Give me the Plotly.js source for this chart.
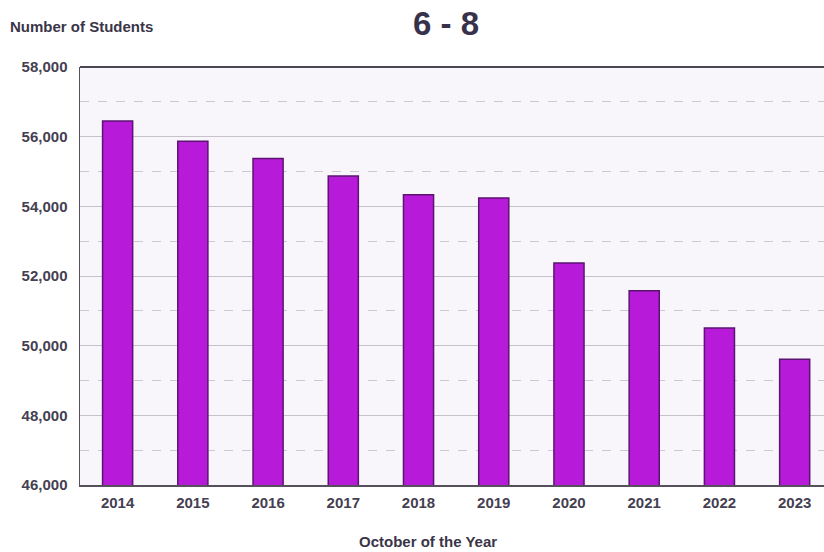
<!DOCTYPE html>
<html>
<head>
<meta charset="utf-8">
<script src="https://cdn.plot.ly/plotly-3.0.1.min.js"></script>
<style>html,body{margin:0;padding:0;background:#fff;}#chart{width:824px;height:552px;}</style>
</head>
<body>
<div id="chart"></div>
<script>
const years = ["2014","2015","2016","2017","2018","2019","2020","2021","2022","2023"];
const students = [56450, 55870, 55370, 54870, 54330, 54240, 52370, 51580, 50510, 49610];
const yTicks = [46000, 48000, 50000, 52000, 54000, 56000, 58000];
const yTickLabels = ["46,000","48,000","50,000","52,000","54,000","56,000","58,000"];
const chartTitle = "6 - 8";
const yLabel = "Number of Students";
const xLabel = "October of the Year";

const textColor = "#453f52";
const fam = "Liberation Sans, Arial, sans-serif";

const trace = {
  type: "bar",
  x: years,
  y: students,
  width: 0.4,
  marker: {color: "#b81ad9", line: {color: "#5b1472", width: 1.5}},
  hoverinfo: "x+y"
};

const layout = {
  width: 824, height: 552,
  margin: {l: 80, r: 0, t: 67, b: 67},
  paper_bgcolor: "#ffffff",
  plot_bgcolor: "#f8f6fb",
  showlegend: false,
  font: {family: fam, size: 15, color: textColor},
  title: {text: "<b>" + chartTitle + "</b>", x: 446/824, xanchor: "center", y: 1 - 23/552, yanchor: "middle",
          font: {family: fam, size: 33, color: "#37324a"}},
  xaxis: {
    type: "category",
    range: [-0.5, 9.39],
    tickfont: {family: fam, size: 15, color: textColor, weight: "bold"},
    ticks: "", showgrid: false, zeroline: false,
    showline: true, linecolor: "#55505c", linewidth: 1.5,
    ticklabelstandoff: 3
  },
  yaxis: {
    range: [46000, 58000],
    tickvals: yTicks, ticktext: yTickLabels,
    tickfont: {family: fam, size: 15, color: textColor, weight: "bold"},
    ticks: "", ticklabelstandoff: 8,
    showgrid: true, gridcolor: "#c6c2ca", gridwidth: 1,
    minor: {dtick: 1000, tick0: 46000, showgrid: true, gridcolor: "#cdc8d2", griddash: "dash", gridwidth: 1, ticks: ""},
    zeroline: false,
    showline: true, linecolor: "#55505c", linewidth: 1.5
  },
  shapes: [
    {type: "line", xref: "paper", yref: "paper", x0: 0, x1: 1, y0: 1, y1: 1, line: {color: "#4a4652", width: 2}}
  ],
  annotations: [
    {text: "<b>" + yLabel + "</b>", xref: "paper", yref: "paper", x: -72/744, y: 1 + 40/418, xanchor: "left", yanchor: "middle",
     showarrow: false, font: {family: fam, size: 15, color: "#3a3548"}},
    {text: "<b>" + xLabel + "</b>", xref: "paper", yref: "paper", x: (428-80)/744, y: -(541-485)/418, xanchor: "center", yanchor: "middle",
     showarrow: false, font: {family: fam, size: 15, color: "#3a3548"}}
  ]
};

Plotly.newPlot("chart", [trace], layout, {displayModeBar: false, staticPlot: true});
</script>
</body>
</html>
